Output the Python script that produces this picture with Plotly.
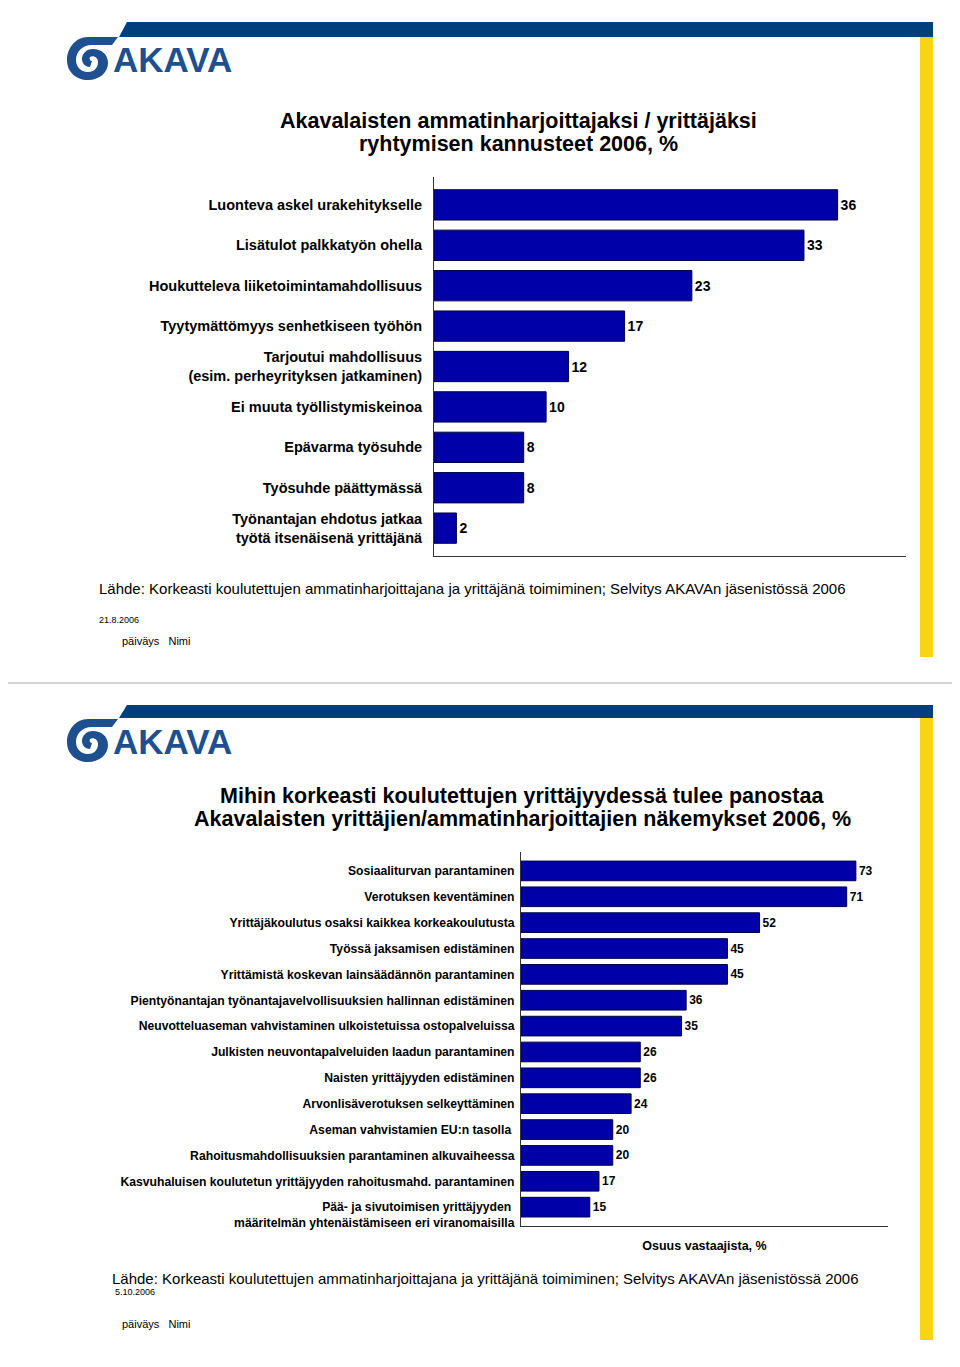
import plotly.graph_objects as go

# page body has an 8px margin; figure is sized to fit inside the window
OFF = 8
W, H = 944, 1351
YSCALE = 1.003  # small vertical correction measured against the reference

# ---------------- data ----------------
title1 = ["Akavalaisten ammatinharjoittajaksi / yrittäjäksi",
          "ryhtymisen kannusteet 2006, %"]
cats1 = [
    "Luonteva askel urakehitykselle",
    "Lisätulot palkkatyön ohella",
    "Houkutteleva liiketoimintamahdollisuus",
    "Tyytymättömyys senhetkiseen työhön",
    "Tarjoutui mahdollisuus<br>(esim. perheyrityksen jatkaminen)",
    "Ei muuta työllistymiskeinoa",
    "Epävarma työsuhde",
    "Työsuhde päättymässä",
    "Työnantajan ehdotus jatkaa<br>työtä itsenäisenä yrittäjänä",
]
vals1 = [36, 33, 23, 17, 12, 10, 8, 8, 2]

title2 = ["Mihin korkeasti koulutettujen yrittäjyydessä tulee panostaa",
          "Akavalaisten yrittäjien/ammatinharjoittajien näkemykset 2006, %"]
cats2 = [
    "Sosiaaliturvan parantaminen",
    "Verotuksen keventäminen",
    "Yrittäjäkoulutus osaksi kaikkea korkeakoulutusta",
    "Työssä jaksamisen edistäminen",
    "Yrittämistä koskevan lainsäädännön parantaminen",
    "Pientyönantajan työnantajavelvollisuuksien hallinnan edistäminen",
    "Neuvotteluaseman vahvistaminen ulkoistetuissa ostopalveluissa",
    "Julkisten neuvontapalveluiden laadun parantaminen",
    "Naisten yrittäjyyden edistäminen",
    "Arvonlisäverotuksen selkeyttäminen",
    "Aseman vahvistamien EU:n tasolla\u00a0",
    "Rahoitusmahdollisuuksien parantaminen alkuvaiheessa",
    "Kasvuhaluisen koulutetun yrittäjyyden rahoitusmahd. parantaminen",
    "\u00a0<br>Pää- ja sivutoimisen yrittäjyyden\u00a0<br>määritelmän yhtenäistämiseen eri viranomaisilla",
]
vals2 = [73, 71, 52, 45, 45, 36, 35, 26, 26, 24, 20, 20, 17, 15]
xtitle2 = "Osuus vastaajista, %"

source = "Lähde: Korkeasti koulutettujen ammatinharjoittajana ja yrittäjänä toimiminen; Selvitys AKAVAn jäsenistössä 2006"
date1 = "21.8.2006"
date2 = "5.10.2006"
footer = "päiväys\u00a0\u00a0\u00a0Nimi"

# ---------------- styles ----------------
NAVY = "#003F7C"
YELLOW = "#F8D417"
BAR = "#0000A8"
LOGO = "#1E4F8F"
SANS = "Liberation Sans, Arial, Helvetica, sans-serif"


def px(x):
    return (x - OFF) / W


def py(y):
    return 1 - ((y - OFF) * YSCALE) / H


fig = go.Figure()

fig.add_trace(go.Bar(
    x=vals1, y=cats1, orientation="h", width=0.75,
    marker=dict(color=BAR, line=dict(color="#00004A", width=1)),
    text=[str(v) for v in vals1], textposition="outside", constraintext="none",
    textfont=dict(family=SANS, size=14, color="black", weight="bold"),
    cliponaxis=False, xaxis="x", yaxis="y", hoverinfo="skip", showlegend=False,
))
fig.add_trace(go.Bar(
    x=vals2, y=cats2, orientation="h", width=0.76,
    marker=dict(color=BAR, line=dict(color="#00004A", width=1)),
    text=[str(v) for v in vals2], textposition="outside", constraintext="none",
    textfont=dict(family=SANS, size=12, color="black", weight="bold"),
    cliponaxis=False, xaxis="x2", yaxis="y2", hoverinfo="skip", showlegend=False,
))

axis_common = dict(showgrid=False, zeroline=False, showline=True,
                   linecolor="#333333", linewidth=1)

fig.update_layout(
    width=W, height=H,
    margin=dict(l=0, r=0, t=0, b=0),
    paper_bgcolor="white", plot_bgcolor="white",
    font=dict(family=SANS, color="black"),
    xaxis=dict(domain=[px(434), px(906)], range=[0, 42.1], anchor="y",
               showticklabels=False, ticks="", **axis_common),
    yaxis=dict(domain=[py(556), py(177)], range=[8.69, -0.69], anchor="x",
               type="category", tickvals=cats1,
               ticktext=[f"<b>{c}</b>" for c in cats1],
               tickfont=dict(family=SANS, size=14.5, color="black"),
               ticks="outside", ticklen=8, tickcolor="rgba(0,0,0,0)",
               **axis_common),
    xaxis2=dict(domain=[px(521), px(888)], range=[0, 80], anchor="y2",
                showticklabels=False, ticks="",
                title=dict(text=f"<b>{xtitle2}</b>", standoff=15,
                           font=dict(family=SANS, size=12.5, color="black")),
                **axis_common),
    yaxis2=dict(domain=[py(1226), py(852)], range=[13.73, -0.73], anchor="x2",
                type="category", tickvals=cats2,
                ticktext=[f"<b>{c}</b>" for c in cats2],
                tickfont=dict(family=SANS, size=12.2, color="black"),
                ticks="outside", ticklen=3, tickcolor="rgba(0,0,0,0)",
                **axis_common),
)

shapes = []
# slide frames
for y0, y1 in [(1, 683), (683, 1365)]:
    shapes.append(dict(type="rect", xref="paper", yref="paper",
                       x0=px(1), x1=px(958), y0=py(y1), y1=py(y0),
                       line=dict(color="#C8C8C8", width=1), fillcolor="rgba(0,0,0,0)"))


def header(top, bottom, ybar_end):
    # navy bar with slanted start
    shapes.append(dict(type="path", xref="paper", yref="paper",
                       path=f"M {px(119)},{py(bottom)} L {px(127)},{py(top)} "
                            f"L {px(933)},{py(top)} L {px(933)},{py(bottom)} Z",
                       fillcolor=NAVY, line=dict(width=0)))
    # yellow vertical bar
    shapes.append(dict(type="rect", xref="paper", yref="paper",
                       x0=px(920), x1=px(933), y0=py(ybar_end), y1=py(bottom),
                       fillcolor=YELLOW, line=dict(width=0)))


def swirl(oy):
    # logo emblem approximated in pixel coordinates, offset vertically by oy
    pts = [
        ("M", [(118, 37)]),
        ("L", [(88, 37)]),
        ("C", [(75, 37), (67, 49), (67, 60)]),
        ("C", [(67, 72), (76, 80), (88, 80)]),
        ("C", [(100, 80), (108, 72), (108, 63)]),
        ("C", [(108, 54), (101, 49), (93, 49)]),
        ("C", [(86, 49), (82, 54), (82, 59)]),
        ("C", [(82, 64), (86, 67), (90, 67)]),
        ("L", [(92, 61)]),
        ("C", [(90, 61), (89, 59), (90, 57)]),
        ("C", [(93, 55), (98, 57), (98, 62)]),
        ("C", [(98, 68), (94, 72), (88, 72)]),
        ("C", [(80, 72), (76, 66), (76, 60)]),
        ("C", [(76, 52), (82, 45), (92, 45)]),
        ("L", [(112, 45)]),
    ]
    s = ""
    for cmd, p in pts:
        s += cmd + " " + " ".join(f"{px(x)},{py(y + oy)}" for x, y in p) + " "
    s += "Z"
    shapes.append(dict(type="path", xref="paper", yref="paper", path=s,
                       fillcolor=LOGO, line=dict(width=0)))


header(22, 37, 657)
swirl(0)
header(705, 718, 1340)
swirl(682)

fig.update_layout(shapes=shapes)

ann = []


def text(x, y, s, size, xanchor="left", bold=False, color="black", align="left"):
    ann.append(dict(xref="paper", yref="paper", x=px(x), y=py(y), text=s,
                    showarrow=False, xanchor=xanchor, yanchor="middle", align=align,
                    font=dict(family=SANS, size=size, color=color,
                              weight="bold" if bold else "normal")))


# logos
text(111, 59, "AKAVA", 35, bold=True, color=LOGO)
text(111, 741, "AKAVA", 35, bold=True, color=LOGO)

# titles (one annotation per line for tight line spacing)
text(519, 121, title1[0], 21.5, xanchor="center", bold=True)
text(519, 144, title1[1], 21.5, xanchor="center", bold=True)
text(522, 796, title2[0], 21.5, xanchor="center", bold=True)
text(522, 819, title2[1], 21.5, xanchor="center", bold=True)

# sources / footers
text(97, 588, source, 15)
text(97, 620, date1, 9)
text(120, 641, footer, 11)
text(110, 1278, source, 15)
text(113, 1292, date2, 9)
text(120, 1324, footer, 11)

fig.update_layout(annotations=ann)

fig.write_html("out.html")
